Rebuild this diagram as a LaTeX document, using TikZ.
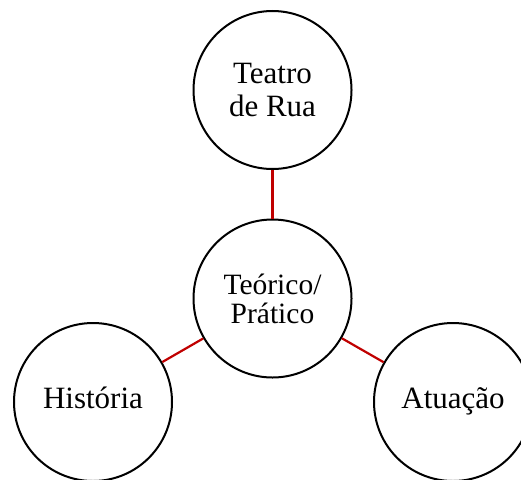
\documentclass[tikz,border=0pt]{standalone}
\usepackage{fontspec}
\setmainfont{Liberation Serif}
\begin{document}
\begin{tikzpicture}[x=1pt,y=-1pt,
  bubble/.style={draw=black,line width=2pt,circle,minimum size=158pt,inner sep=0pt,align=center,fill=white},
  link/.style={draw={rgb,255:red,192;green,0;blue,0},line width=2.2pt}]
\useasboundingbox (0,0) rectangle (521,479);
\clip (0,0) rectangle (521,479);
\node[bubble,font=\fontsize{31}{33}\selectfont] (top) at (272.5,90) {Teatro\\de Rua};
\node[bubble,font=\fontsize{29.5}{29}\selectfont] (mid) at (272.5,298.5) {Teórico/\\Prático};
\node[bubble,font=\fontsize{31}{33}\selectfont] (left) at (93,402) {\strut História};
\node[bubble,font=\fontsize{31}{33}\selectfont] (right) at (453,402) {\strut Atuação};
\draw[link] (mid) -- (top);
\draw[link] (mid) -- (left);
\draw[link] (mid) -- (right);
\end{tikzpicture}
\end{document}
